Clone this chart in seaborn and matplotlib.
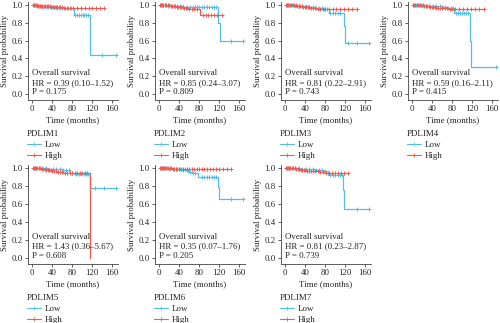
import numpy as np
import pandas as pd
import matplotlib
matplotlib.use("Agg")
import matplotlib.pyplot as plt
from matplotlib.lines import Line2D
import seaborn as sns

sns.set_style("ticks")
plt.rcParams['font.family'] = ['Liberation Serif', 'DejaVu Serif']

genes = ["PDLIM1", "PDLIM2", "PDLIM3", "PDLIM4", "PDLIM5", "PDLIM6", "PDLIM7"]
hr_text = ["HR = 0.39 (0.10\u20131.52)", "HR = 0.85 (0.24\u20133.07)", "HR = 0.81 (0.22\u20132.91)",
           "HR = 0.59 (0.16\u20132.11)", "HR = 1.43 (0.36\u20135.67)", "HR = 0.35 (0.07\u20131.76)",
           "HR = 0.81 (0.23\u20132.87)"]
p_text = ["P = 0.175", "P = 0.809", "P = 0.743", "P = 0.415", "P = 0.608", "P = 0.205", "P = 0.739"]

# PDLIM1
pdlim1_low_t = [0, 8, 20, 35, 50, 62, 83, 116, 168]
pdlim1_low_s = [1.0, 0.99, 0.98, 0.975, 0.97, 0.965, 0.885, 0.44, 0.44]
pdlim1_low_c = [3, 6, 10, 14, 18, 22, 27, 31, 36, 40, 45, 50, 55, 60, 66, 72, 78, 86, 89, 93, 97, 101, 104, 108, 112, 140, 168]
pdlim1_high_t = [0, 12, 25, 38, 52, 60, 143]
pdlim1_high_s = [1.0, 0.99, 0.985, 0.98, 0.975, 0.965, 0.965]
pdlim1_high_c = [2, 4, 7, 9, 12, 15, 17, 20, 23, 26, 29, 32, 35, 38, 41, 44, 47, 50, 53, 56, 59, 64, 70, 76, 82, 90, 98, 106, 114, 120, 128, 136, 143]

# PDLIM2
pdlim2_low_t = [0, 15, 30, 45, 58, 118, 121, 168]
pdlim2_low_s = [1.0, 0.99, 0.985, 0.98, 0.975, 0.80, 0.60, 0.60]
pdlim2_low_c = [3, 7, 12, 18, 24, 30, 36, 42, 48, 55, 62, 68, 72, 76, 80, 85, 90, 95, 100, 105, 110, 114, 143, 168]
pdlim2_high_t = [0, 10, 22, 35, 48, 60, 70, 82, 125]
pdlim2_high_s = [1.0, 0.995, 0.99, 0.98, 0.97, 0.96, 0.955, 0.89, 0.89]
pdlim2_high_c = [2, 4, 6, 8, 11, 14, 17, 20, 23, 26, 29, 32, 35, 38, 41, 44, 47, 50, 53, 56, 60, 65, 70, 75, 88, 93, 98, 104, 110, 116, 125]

# PDLIM3
pdlim3_low_t = [0, 15, 30, 45, 60, 75, 87, 117, 119, 168]
pdlim3_low_s = [1.0, 0.99, 0.985, 0.98, 0.97, 0.96, 0.915, 0.76, 0.575, 0.575]
pdlim3_low_c = [3, 8, 13, 20, 27, 34, 41, 48, 55, 62, 68, 73, 78, 83, 90, 95, 100, 105, 110, 125, 143, 168]
pdlim3_high_t = [0, 10, 22, 35, 50, 62, 75, 85, 143]
pdlim3_high_s = [1.0, 0.995, 0.99, 0.98, 0.97, 0.96, 0.955, 0.95, 0.95]
pdlim3_high_c = [2, 4, 6, 9, 12, 15, 18, 21, 24, 27, 30, 33, 36, 39, 42, 45, 48, 52, 56, 60, 65, 70, 75, 80, 88, 95, 102, 110, 118, 126, 134, 143]

# PDLIM4
pdlim4_low_t = [0, 20, 40, 60, 70, 84, 116, 118, 168]
pdlim4_low_s = [1.0, 0.99, 0.985, 0.98, 0.97, 0.91, 0.60, 0.30, 0.30]
pdlim4_low_c = [3, 8, 14, 20, 27, 34, 41, 48, 55, 62, 66, 72, 77, 82, 88, 92, 96, 100, 104, 108, 112, 168]
pdlim4_high_t = [0, 10, 22, 35, 48, 60, 72, 90, 143]
pdlim4_high_s = [1.0, 0.995, 0.99, 0.98, 0.97, 0.965, 0.96, 0.955, 0.955]
pdlim4_high_c = [2, 4, 6, 9, 12, 15, 18, 21, 24, 27, 30, 33, 36, 39, 42, 45, 48, 52, 56, 60, 65, 70, 75, 80, 86, 94, 102, 110, 118, 126, 134, 143]

# PDLIM5
pdlim5_low_t = [0, 15, 30, 45, 60, 75, 85, 116, 168]
pdlim5_low_s = [1.0, 0.995, 0.99, 0.985, 0.975, 0.95, 0.93, 0.776, 0.776]
pdlim5_low_c = [3, 8, 14, 20, 27, 34, 41, 48, 55, 62, 68, 74, 80, 88, 93, 98, 103, 108, 112, 125, 143, 168]
pdlim5_high_t = [0, 8, 18, 28, 40, 52, 62, 75, 116]
pdlim5_high_s = [1.0, 0.995, 0.99, 0.98, 0.97, 0.96, 0.95, 0.94, 0.0]
pdlim5_high_c = [2, 4, 6, 8, 10, 13, 16, 19, 22, 25, 28, 31, 34, 37, 40, 44, 48, 52, 56, 60, 65, 70, 75, 80, 85, 90, 95, 100, 105, 110]

# PDLIM6
pdlim6_low_t = [0, 15, 30, 45, 58, 65, 78, 117, 119, 168]
pdlim6_low_s = [1.0, 0.99, 0.985, 0.975, 0.96, 0.94, 0.90, 0.785, 0.655, 0.655]
pdlim6_low_c = [3, 8, 14, 20, 27, 34, 41, 48, 55, 62, 68, 72, 85, 90, 95, 100, 105, 110, 114, 143, 168]
pdlim6_high_t = [0, 10, 25, 40, 143]
pdlim6_high_s = [1.0, 0.995, 0.99, 0.985, 0.985]
pdlim6_high_c = [2, 4, 6, 8, 10, 12, 15, 18, 21, 24, 27, 30, 33, 36, 40, 44, 48, 52, 56, 60, 65, 70, 75, 80, 85, 90, 96, 102, 108, 114, 120, 128, 136, 143]

# PDLIM7
pdlim7_low_t = [0, 15, 30, 45, 60, 75, 86, 116, 118, 168]
pdlim7_low_s = [1.0, 0.995, 0.99, 0.985, 0.975, 0.965, 0.92, 0.76, 0.55, 0.55]
pdlim7_low_c = [3, 8, 14, 20, 27, 34, 41, 48, 55, 62, 68, 74, 80, 90, 95, 100, 105, 110, 114, 143, 168]
pdlim7_high_t = [0, 10, 20, 30, 42, 55, 68, 80, 125]
pdlim7_high_s = [1.0, 0.995, 0.99, 0.98, 0.97, 0.965, 0.96, 0.95, 0.95]
pdlim7_high_c = [2, 4, 6, 8, 10, 13, 16, 19, 22, 25, 28, 31, 34, 37, 40, 44, 48, 52, 56, 60, 65, 70, 75, 82, 88, 94, 100, 106, 112, 118, 125]

curves = {
    "PDLIM1": (pdlim1_low_t, pdlim1_low_s, pdlim1_low_c, pdlim1_high_t, pdlim1_high_s, pdlim1_high_c),
    "PDLIM2": (pdlim2_low_t, pdlim2_low_s, pdlim2_low_c, pdlim2_high_t, pdlim2_high_s, pdlim2_high_c),
    "PDLIM3": (pdlim3_low_t, pdlim3_low_s, pdlim3_low_c, pdlim3_high_t, pdlim3_high_s, pdlim3_high_c),
    "PDLIM4": (pdlim4_low_t, pdlim4_low_s, pdlim4_low_c, pdlim4_high_t, pdlim4_high_s, pdlim4_high_c),
    "PDLIM5": (pdlim5_low_t, pdlim5_low_s, pdlim5_low_c, pdlim5_high_t, pdlim5_high_s, pdlim5_high_c),
    "PDLIM6": (pdlim6_low_t, pdlim6_low_s, pdlim6_low_c, pdlim6_high_t, pdlim6_high_s, pdlim6_high_c),
    "PDLIM7": (pdlim7_low_t, pdlim7_low_s, pdlim7_low_c, pdlim7_high_t, pdlim7_high_s, pdlim7_high_c),
}

LOW_COL = "#55BDE4"
HIGH_COL = "#F05A50"
AX_COL = "#444444"
TXT_COL = "#222222"

W, H = 500, 323
fig = plt.figure(figsize=(W / 100, H / 100), dpi=100)

col_x0 = [32, 159, 285, 412]
rows = [(2.3, 99.8), (165.3, 263.9)]


def surv_at(t_arr, s_arr, x):
    t_arr = np.asarray(t_arr)
    idx = np.searchsorted(t_arr, x, side="right") - 1
    return np.asarray(s_arr)[idx]


for i, g in enumerate(genes):
    r, c = divmod(i, 4)
    top, bot = rows[r]
    left = col_x0[c] - 4
    ax = fig.add_axes([left / W, 1 - bot / H, 90 / W, (bot - top) / H])
    lt, ls, lc, ht, hs, hc = curves[g]
    for t, s, cens, col in [(lt, ls, lc, LOW_COL), (ht, hs, hc, HIGH_COL)]:
        df = pd.DataFrame({"t": t, "s": s})
        sns.lineplot(data=df, x="t", y="s", ax=ax, color=col, lw=0.9,
                     drawstyle="steps-post", estimator=None, sort=False, legend=False)
        cdf = pd.DataFrame({"t": cens, "s": surv_at(t, s, np.asarray(cens))})
        sns.scatterplot(data=cdf, x="t", y="s", ax=ax, color=col, marker="+",
                        s=12, linewidth=0.7, legend=False, zorder=3)
    ax.set_xlim(-8, 172)
    ax.set_ylim(-0.065, 1.03)
    ax.set_xticks([0, 40, 80, 120, 160])
    ax.set_yticks([0.0, 0.2, 0.4, 0.6, 0.8, 1.0])
    ax.set_yticklabels(["0.0", "0.2", "0.4", "0.6", "0.8", "1.0"])
    ax.tick_params(labelsize=6.3, length=2, width=0.6, pad=2, colors=AX_COL, labelcolor=TXT_COL)
    for sp in ["top", "right"]:
        ax.spines[sp].set_visible(False)
    for sp in ["left", "bottom"]:
        ax.spines[sp].set_linewidth(0.6)
        ax.spines[sp].set_color(AX_COL)
    ax.set_xlabel("Time (months)", fontsize=6.4, labelpad=2, color=TXT_COL)
    ax.set_ylabel("Survival probability", fontsize=6.4, labelpad=1.5, color=TXT_COL)
    ax.text(0, 0.233, "Overall survival", fontsize=6.4, va="center", ha="left", color=TXT_COL)
    ax.text(0, 0.127, hr_text[i], fontsize=6.4, va="center", ha="left", color=TXT_COL)
    ax.text(0, 0.026, p_text[i], fontsize=6.4, va="center", ha="left", color=TXT_COL)
    handles = [Line2D([], [], color=LOW_COL, lw=0.8, marker="+", markersize=3.5, markeredgewidth=0.6),
               Line2D([], [], color=HIGH_COL, lw=0.8, marker="+", markersize=3.5, markeredgewidth=0.6)]
    leg = ax.legend(handles, ["Low", "High"], title=g, loc="upper left",
                    bbox_to_anchor=(-0.01, -0.31), frameon=False, fontsize=6.4,
                    title_fontsize=6.4, borderpad=0, borderaxespad=0, handlelength=1.6,
                    handletextpad=0.4, labelspacing=0.3, alignment="left")
    for txt in leg.get_texts():
        txt.set_color(TXT_COL)
    leg.get_title().set_color(TXT_COL)

fig.savefig("out.png", dpi=100)
